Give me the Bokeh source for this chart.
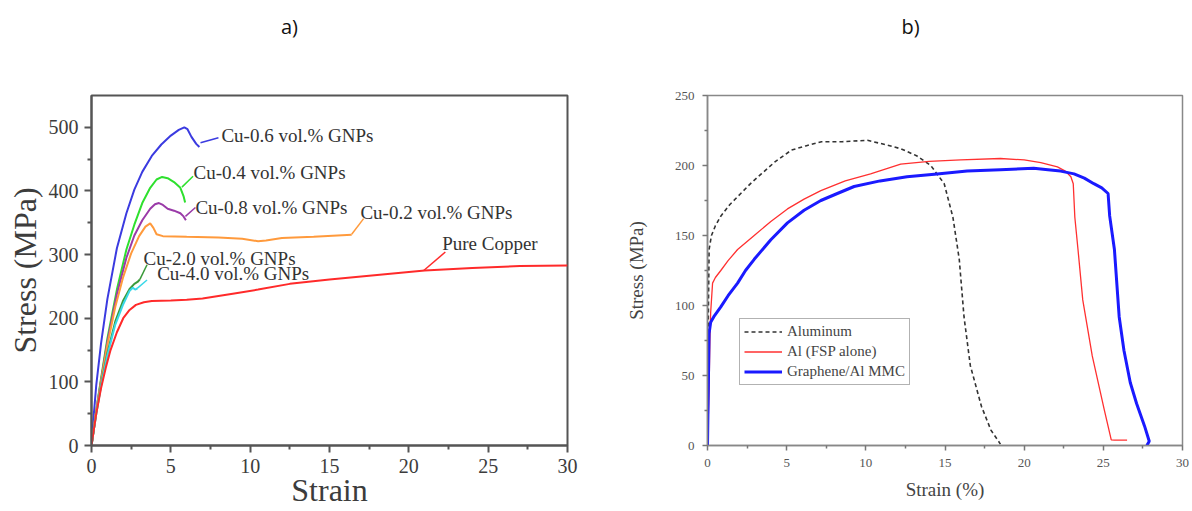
from bokeh.plotting import figure
from bokeh.layouts import row
from bokeh.models import Range1d, Label, Legend, LegendItem, FixedTicker, LinearAxis
from bokeh.embed import file_html
from bokeh.resources import INLINE

# ---------------- Panel a data (Strain, Stress MPa) ----------------
cu06_x = [0, 0.15, 0.3, 0.6, 1.0, 1.6, 2.2, 2.7, 3.2, 3.8, 4.4, 5.0, 5.5, 5.85, 6.05, 6.3, 6.6, 6.8]
cu06_y = [0, 50, 95, 160, 230, 310, 365, 402, 430, 455, 473, 487, 496, 500, 497, 485, 474, 469]

cu04_x = [0, 0.3, 0.6, 1.0, 1.6, 2.2, 2.7, 3.2, 3.7, 4.1, 4.45, 4.8, 5.2, 5.6, 5.8, 5.9]
cu04_y = [0, 55, 105, 168, 245, 308, 347, 381, 405, 418, 422, 420, 414, 405, 392, 382]

cu08_x = [0, 0.3, 0.6, 1.0, 1.6, 2.2, 2.7, 3.2, 3.7, 4.0, 4.25, 4.5, 4.8, 5.2, 5.6, 5.8, 5.95]
cu08_y = [0, 55, 102, 163, 238, 295, 330, 354, 372, 379, 381, 378, 372, 369, 365, 360, 354]

cu02_x = [0, 0.3, 0.6, 1.0, 1.5, 2.0, 2.5, 3.0, 3.4, 3.7, 3.9, 4.1, 4.5, 6, 8, 9.5, 10.5, 11, 12, 14, 16.4]
cu02_y = [0, 55, 100, 158, 218, 265, 302, 329, 344, 349, 342, 332, 329, 328, 327, 325, 321, 322, 326, 328, 331]

cu20_x = [0, 0.3, 0.6, 1.0, 1.5, 2.0, 2.4, 2.7, 2.9, 3.05]
cu20_y = [0, 50, 95, 145, 195, 228, 246, 254, 257, 261]

cu40_x = [0, 0.3, 0.6, 1.0, 1.5, 2.0, 2.4, 2.6, 2.75, 2.9]
cu40_y = [0, 50, 93, 142, 190, 222, 243, 248, 245, 247]

pure_x = [0, 0.3, 0.6, 0.9, 1.2, 1.6, 2.0, 2.4, 2.8, 3.3, 3.8, 5, 6, 7, 8, 9, 10.5, 12.5, 15, 18, 21, 24, 27, 30]
pure_y = [0, 50, 90, 122, 150, 178, 200, 213, 221, 225, 227, 228, 229, 231, 235, 239, 245, 254, 261, 268, 275, 279, 282, 283]

a_series = [
    ("Cu-0.6 vol.% GNPs", cu06_x, cu06_y, "#3b3be0"),
    ("Cu-0.4 vol.% GNPs", cu04_x, cu04_y, "#2ee02e"),
    ("Cu-0.8 vol.% GNPs", cu08_x, cu08_y, "#9a3aa8"),
    ("Cu-0.2 vol.% GNPs", cu02_x, cu02_y, "#ff9a3c"),
    ("Cu-2.0 vol.% GNPs", cu20_x, cu20_y, "#3a9a3a"),
    ("Cu-4.0 vol.% GNPs", cu40_x, cu40_y, "#3ad8e8"),
    ("Pure Copper", pure_x, pure_y, "#ff2a2a"),
]

# label anchors (text position) and leader lines (from curve to text)
a_label_x = [8.19, 6.43, 6.55, 16.95, 3.28, 4.14, 22.1]
a_label_y = [487, 429, 374.6, 366.8, 294, 270, 317]
a_leader_x = [[6.87, 8.0], [5.7, 6.4], [5.92, 6.55], [16.4, 17.15], [3.05, 3.5], [2.88, 3.5], [20.94, 22.3]]
a_leader_y = [[475.7, 483.5], [406, 423], [360, 374], [332, 356.5], [261, 284], [247, 260], [275, 304]]

# ---------------- Panel b data (Strain %, Stress MPa) ----------------
alu_x = [0, 0.05, 0.1, 0.25, 0.5, 0.85, 1.4, 2.1, 2.8, 3.4, 4.3, 5.3, 6.2, 7.2, 8.5, 10.1, 11.2, 12.2,
         13.2, 14.1, 14.95, 15.5, 15.9, 16.2, 16.6, 17.3, 17.9, 18.5]
alu_y = [0, 90, 140, 150, 157, 164, 172, 180, 188, 194, 203, 211, 214, 217, 217, 218, 215, 212,
         207, 200, 187, 163, 133, 92, 57, 28, 11, 1]

fsp_x = [0, 0.1, 0.15, 0.2, 0.32, 0.5, 0.84, 1.3, 1.9, 2.95, 4.0, 5.05, 6.1, 7.16, 8.7, 10.3, 12.2, 14, 16,
         18.5, 20, 21.05, 22.1, 22.6, 22.95, 23.1, 23.2, 23.4, 23.7, 24.3, 25.05, 25.5, 25.7, 26.5]
fsp_y = [0, 40, 75, 95, 116, 120, 125, 132, 140, 150, 160, 169, 176, 182, 189, 194, 201, 203, 204,
         205, 204, 202, 199, 196, 192, 187, 163, 140, 104, 64, 26, 4, 3.8, 3.8]

mmc_x = [0, 0.05, 0.1, 0.2, 0.4, 0.84, 1.3, 1.9, 2.4, 2.95, 4.0, 5.05, 6.1, 7.16, 8.2, 9.26, 10.9, 12.6,
         14.5, 16.4, 18.5, 20.6, 21.5, 22.3, 23.15, 23.8, 24.4, 24.9, 25.3, 25.4, 25.7, 26.0, 26.3, 26.7,
         27.1, 27.6, 27.9, 27.75]
mmc_y = [0, 40, 80, 88, 92, 99, 107, 116, 125, 133, 147, 159, 168, 175, 180, 185, 189, 192,
         194, 196, 197, 198, 197, 196, 194, 191, 187, 184, 180, 164, 140, 92, 68, 45,
         30, 14, 3, 0]

b_names = ["Aluminum", "Al (FSP alone)", "Graphene/Al MMC"]

# panel captions, placed over each frame at these strain positions
caption_text = ["a)", "b)"]
caption_x = [12.48, 12.82]

SERIF = "Liberation Serif"


def add_caption(p, text, xpos, standoff):
    cap = LinearAxis(ticker=FixedTicker(ticks=[xpos], minor_ticks=[]),
                     major_label_overrides={xpos: text})
    cap.axis_line_color = None
    cap.major_tick_line_color = None
    cap.minor_tick_line_color = None
    cap.major_tick_out = 0
    cap.major_tick_in = 0
    cap.minor_tick_out = 0
    cap.major_label_standoff = standoff
    cap.major_label_text_font = "Open Sans"
    cap.major_label_text_font_size = "20px"
    cap.major_label_text_color = "#111111"
    p.add_layout(cap, "above")


# ---------------- Panel a ----------------
pa = figure(width=600, height=511, x_range=Range1d(0, 30), y_range=Range1d(0, 550),
            output_backend="svg", toolbar_location=None, title=None,
            min_border_left=91, min_border_right=33, min_border_top=95, min_border_bottom=66)
pa.grid.visible = False
pa.outline_line_color = "#555555"
pa.outline_line_width = 2

for ax in (pa.xaxis[0], pa.yaxis[0]):
    ax.axis_line_color = "#555555"
    ax.axis_line_width = 2
    ax.major_tick_line_color = "#555555"
    ax.minor_tick_line_color = "#555555"
    ax.major_tick_line_width = 2
    ax.minor_tick_line_width = 2
    ax.major_tick_out = 7
    ax.major_tick_in = 0
    ax.minor_tick_out = 4
    ax.minor_tick_in = 0
    ax.major_label_text_font = SERIF
    ax.major_label_text_font_size = "20px"
    ax.major_label_text_color = "#3c3c3c"
    ax.axis_label_text_font = SERIF
    ax.axis_label_text_font_style = "normal"
    ax.axis_label_text_color = "#3c3c3c"

pa.xaxis.ticker = FixedTicker(ticks=[0, 5, 10, 15, 20, 25, 30],
                              minor_ticks=[2.5, 7.5, 12.5, 17.5, 22.5, 27.5])
pa.yaxis.ticker = FixedTicker(ticks=[0, 100, 200, 300, 400, 500],
                              minor_ticks=[50, 150, 250, 350, 450])
pa.xaxis.axis_label = "Strain"
pa.yaxis.axis_label = "Stress (MPa)"
pa.xaxis.axis_label_text_font_size = "32px"
pa.yaxis.axis_label_text_font_size = "32px"
pa.xaxis.major_label_standoff = 6
pa.xaxis.axis_label_standoff = -4
pa.yaxis.major_label_standoff = 6
pa.yaxis.axis_label_standoff = 3

for (name, xs, ys, col), lx, ly, ldx, ldy in zip(a_series, a_label_x, a_label_y, a_leader_x, a_leader_y):
    pa.line(xs, ys, line_color=col, line_width=2)
    pa.line(ldx, ldy, line_color=col, line_width=1.5)
    pa.add_layout(Label(x=lx, y=ly, text=name, text_font=SERIF, text_font_size="19px",
                        text_color="#333333", text_align="left", text_baseline="middle"))

add_caption(pa, caption_text[0], caption_x[0], 56)

# ---------------- Panel b ----------------
pb = figure(width=592, height=511, x_range=Range1d(0, 30), y_range=Range1d(0, 250),
            output_backend="svg", toolbar_location=None, title=None,
            min_border_left=107, min_border_right=10, min_border_top=95, min_border_bottom=66)
pb.grid.visible = False
pb.outline_line_color = "#888888"
pb.outline_line_width = 1.5

for ax in (pb.xaxis[0], pb.yaxis[0]):
    ax.axis_line_color = "#888888"
    ax.axis_line_width = 1.5
    ax.major_tick_line_color = "#777777"
    ax.minor_tick_line_color = "#777777"
    ax.major_tick_line_width = 1.5
    ax.minor_tick_line_width = 1.5
    ax.major_tick_out = 5
    ax.major_tick_in = 0
    ax.minor_tick_out = 3
    ax.minor_tick_in = 0
    ax.major_label_text_font = SERIF
    ax.major_label_text_font_size = "13px"
    ax.major_label_text_color = "#555555"
    ax.axis_label_text_font = SERIF
    ax.axis_label_text_font_style = "normal"
    ax.axis_label_text_color = "#444444"
    ax.axis_label_text_font_size = "19px"

pb.xaxis.ticker = FixedTicker(ticks=[0, 5, 10, 15, 20, 25, 30],
                              minor_ticks=[2.5, 7.5, 12.5, 17.5, 22.5, 27.5])
pb.yaxis.ticker = FixedTicker(ticks=[0, 50, 100, 150, 200, 250],
                              minor_ticks=[25, 75, 125, 175, 225])
pb.xaxis.axis_label = "Strain (%)"
pb.yaxis.axis_label = "Stress (MPa)"
pb.xaxis.major_label_standoff = 8
pb.xaxis.axis_label_standoff = 9
pb.yaxis.major_label_standoff = 8
pb.yaxis.axis_label_standoff = 25

r_alu = pb.line(alu_x, alu_y, line_color="#333333", line_width=1.6, line_dash="4 3")
r_fsp = pb.line(fsp_x, fsp_y, line_color="#ff3030", line_width=1.3)
r_mmc = pb.line(mmc_x, mmc_y, line_color="#1a1aff", line_width=3)

legend = Legend(items=[LegendItem(label=b_names[0], renderers=[r_alu]),
                       LegendItem(label=b_names[1], renderers=[r_fsp]),
                       LegendItem(label=b_names[2], renderers=[r_mmc])],
                location=(32, 60))
legend.label_text_font = SERIF
legend.label_text_font_size = "15px"
legend.label_text_color = "#444444"
legend.border_line_color = "#666666"
legend.border_line_width = 1
legend.glyph_width = 38
legend.glyph_height = 17
legend.label_height = 17
legend.label_standoff = 5
legend.spacing = 3
legend.padding = 4
legend.margin = 0
pb.add_layout(legend, "center")

add_caption(pb, caption_text[1], caption_x[1], 56)

layout = row(pa, pb)
open("out.html", "w").write(file_html(layout, INLINE))
